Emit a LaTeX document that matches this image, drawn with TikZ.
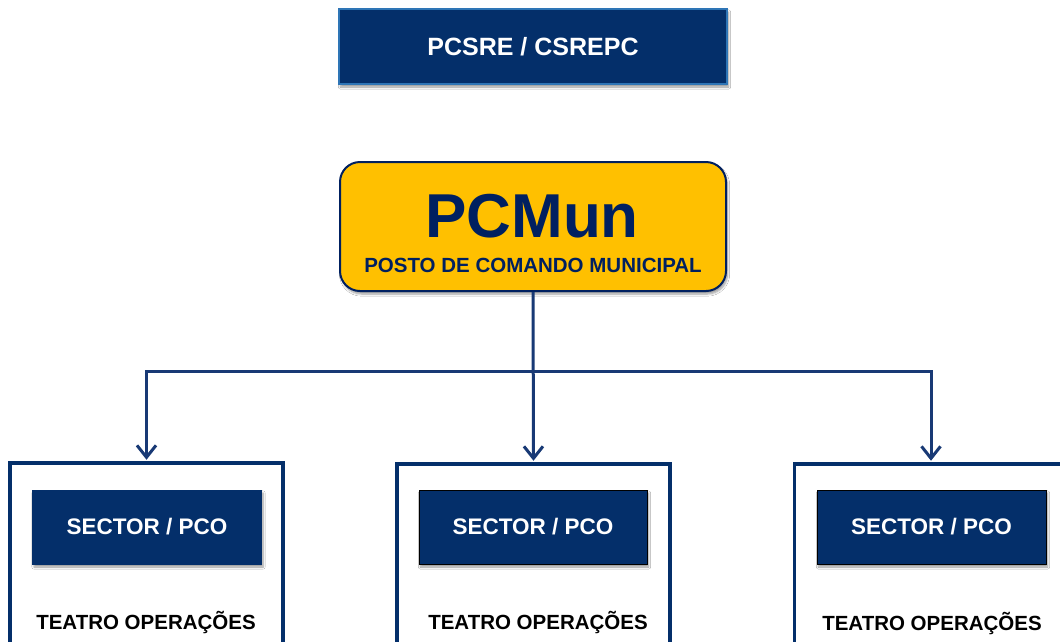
\documentclass[tikz,border=0pt]{standalone}
\usepackage{fontspec}
\setmainfont{Liberation Sans}
\usetikzlibrary{arrows.meta,shadows.blur}
\definecolor{navy}{RGB}{4,47,106}
\definecolor{gold}{RGB}{255,192,0}
\definecolor{inkblue}{RGB}{0,32,96}
\definecolor{linkblue}{RGB}{24,57,117}
\definecolor{edgeblue}{RGB}{46,117,182}
\begin{document}
\begin{tikzpicture}[x=1pt,y=-1pt,
  shadowed/.style={blur shadow={shadow xshift=1.5pt,shadow yshift=-3pt,shadow blur steps=6,shadow opacity=40}},
  topbox/.style={shadowed,draw=edgeblue,line width=1.2pt,fill=navy,text=white,inner sep=0pt,
    minimum width=388pt,minimum height=75pt,font=\bfseries\fontsize{25}{30}\selectfont},
  pcbox/.style={shadowed,draw=inkblue,line width=2pt,fill=gold,rounded corners=20pt,inner sep=0pt,
    minimum width=386pt,minimum height=129pt},
  container/.style={draw=navy,line width=3.5pt,fill=white,inner sep=0pt,minimum width=273pt,minimum height=240pt},
  sectorbox/.style={shadowed,fill=navy,text=white,inner sep=0pt,minimum width=229pt,minimum height=74pt,
    font=\bfseries\fontsize{22.5}{27}\selectfont},
  teatro/.style={inner sep=0pt,text=black,font=\bfseries\fontsize{20.5}{24}\selectfont},
  conn/.style={draw=linkblue,line width=3pt,-{Straight Barb[length=12pt,width=19pt,line width=3pt]}}
]
\useasboundingbox[fill=white] (0,0) rectangle (1060,641);

% top box
\node[topbox] (top) at (533,46.5) {PCSRE / CSREPC};

% PCMun
\node[pcbox] (pcm) at (533,226.5) {};
\node[inner sep=0pt,text=inkblue,font=\bfseries\fontsize{62}{70}\selectfont] (pcmt) at (532,216) {PCMun};
\node[inner sep=0pt,text=inkblue,font=\bfseries\fontsize{20.5}{24}\selectfont] (pcms) at (533,265) {POSTO DE COMANDO MUNICIPAL};

% containers
\node[container] (c1) at (146.5,583) {};
\node[container] (c2) at (533.5,584) {};
\node[container] (c3) at (931,584) {};

% sector boxes
\node[sectorbox,draw=navy,line width=0.8pt] (s1) at (147,527) {SECTOR / PCO};
\node[sectorbox,draw=black,line width=1pt,minimum width=228pt] (s2) at (533,527) {SECTOR / PCO};
\node[sectorbox,draw=black,line width=1pt] (s3) at (931.5,527) {SECTOR / PCO};

% teatro labels
\node[teatro] (t1) at (146,622) {TEATRO OPERAÇÕES};
\node[teatro] (t2) at (538,622) {TEATRO OPERAÇÕES};
\node[teatro] (t3) at (932,623) {TEATRO OPERAÇÕES};

% connectors
\coordinate (j) at (pcm.south |- 0,371);
\draw[conn] (pcm.south) -- ([yshift=1.5pt]c2.north);
\draw[conn] (j) -| ([yshift=1.5pt]c1.north);
\draw[conn] (j) -| ([yshift=1.5pt]c3.north);
\end{tikzpicture}
\end{document}
